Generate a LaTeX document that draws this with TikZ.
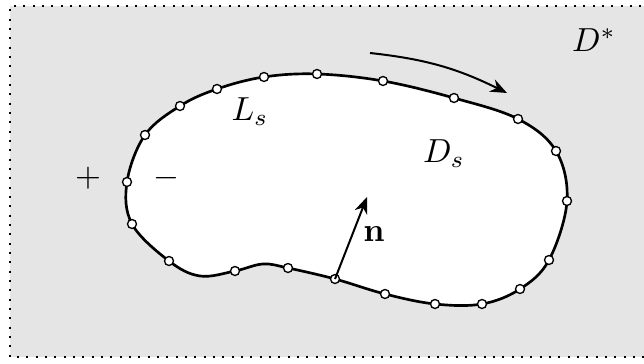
\documentclass[tikz,border=0pt]{standalone}
\usetikzlibrary{arrows.meta}
\begin{document}
\begin{tikzpicture}[x=0.3pt,y=-0.3pt,
  pt/.style={circle,draw=black,fill=white,inner sep=0pt,minimum size=2.7pt,line width=0.4pt},
  boundary/.style={line width=0.8pt,black},
  lab/.style={inner sep=0pt},
  arr/.style={-{Stealth[length=5pt,width=4pt]},line width=0.6pt}]
\useasboundingbox (0,0) rectangle (644,364);
\fill[gray!20] (10,6) rectangle (660,357);
\draw[dash pattern=on 0.6pt off 2.2pt,line width=0.6pt] (660,6) -- (10,6) -- (10,357) -- (660,357);
% hidden shape points
\coordinate (h1) at (200,276);
\coordinate (h2) at (263,264);
% marked points
\foreach \i/\x/\y in {1/127/182,2/145/135,3/180/106,4/217/89,5/264/77,6/317/74,7/383/81,8/454/98,9/518/119,10/556/151,11/567/201,12/549/260,13/520/289,14/482/304,15/435/304,16/385/294,17/335/279,18/288/268,19/235/271,20/169/261,21/132/224}
  \coordinate (c\i) at (\x,\y);
\filldraw[boundary,fill=white] plot[smooth cycle,tension=0.6] coordinates {(c1) (c2) (c3) (c4) (c5) (c6) (c7) (c8) (c9) (c10) (c11) (c12) (c13) (c14) (c15) (c16) (c17) (c18) (h2) (c19) (h1) (c20) (c21)};
\foreach \i in {1,...,21} \node[pt] (p\i) at (c\i) {};
% normal
\coordinate (ntip) at (367,197);
\draw[arr] (p17.center) -- (ntip);
\node[lab] (n) at (374,234) {$\mathbf{n}$};
% orientation arrow
\coordinate (a1) at (370,53);
\coordinate (a2) at (507,93);
\draw[arr] (a1) to[bend left=10] (a2);
% labels
\node[lab] (plus) at (88,178) {$+$};
\node[lab] (minus) at (166,178) {$-$};
\node[lab] (Ls) at (250,112) {$L_s$};
\node[lab] (Ds) at (444,154) {$D_s$};
\node[lab] (Dstar) at (594,40) {$D^*$};
\end{tikzpicture}
\end{document}
